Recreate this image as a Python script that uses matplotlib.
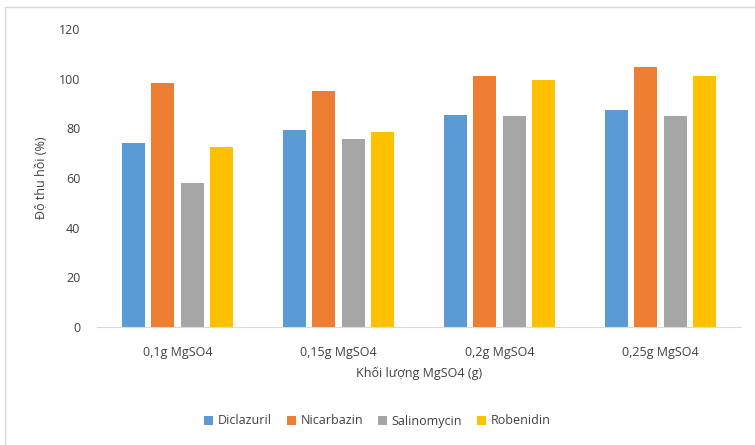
import matplotlib
matplotlib.use("Agg")
import matplotlib.pyplot as plt
import numpy as np
from matplotlib.patches import Rectangle

categories = ["0,1g MgSO4", "0,15g MgSO4", "0,2g MgSO4", "0,25g MgSO4"]
series_names = ["Diclazuril", "Nicarbazin", "Salinomycin", "Robenidin"]
diclazuril = [74, 79.4, 85.4, 87.2]
nicarbazin = [98.2, 95.1, 101, 104.8]
salinomycin = [57.8, 75.8, 84.8, 84.8]
robenidin = [72.3, 78.7, 99.4, 101]
colors = ["#5B9BD5", "#ED7D31", "#A5A5A5", "#FFC000"]

plt.rcParams['font.family'] = ['Open Sans', 'DejaVu Sans']

fig = plt.figure(figsize=(7.55, 4.45), dpi=100)
ax = fig.add_axes([97/755, 1-327/445, (741-97)/755, (327-29)/445])

x = np.arange(len(categories))
step = 0.182
width = 0.143
data = [diclazuril, nicarbazin, salinomycin, robenidin]
for i, (vals, name, c) in enumerate(zip(data, series_names, colors)):
    ax.bar(x + (i - 1.5) * step, vals, width, color=c, label=name)

ax.set_xlim(-0.5, len(categories) - 0.5)
ax.set_ylim(0, 120)
ax.set_yticks(range(0, 121, 20))
ax.set_xticks(x)
ax.set_xticklabels(categories)
ax.tick_params(axis='both', length=0, labelsize=9, colors='#404040')
ax.tick_params(axis='y', pad=12)
ax.tick_params(axis='x', pad=14)
for s in ['top', 'right', 'left']:
    ax.spines[s].set_visible(False)
ax.spines['bottom'].set_color('#D9D9D9')
ax.set_ylabel("Độ thu hồi (%)", fontsize=9, color='#404040', labelpad=8)
ax.set_xlabel("Khối lượng MgSO4 (g)", fontsize=9, color='#404040', labelpad=5)

fig.legend(loc='center', bbox_to_anchor=(0.5, 1-421/445), ncol=4, frameon=False,
           fontsize=9, handlelength=0.7, handleheight=0.7, handletextpad=0.4,
           columnspacing=1.2, labelcolor='#404040')

fig.patches.append(Rectangle((5/755, -0.05), 1.1, 1.05 - 7/445, transform=fig.transFigure,
                             fill=False, edgecolor='#D9D9D9', linewidth=1))

fig.savefig("out.png", dpi=100)
